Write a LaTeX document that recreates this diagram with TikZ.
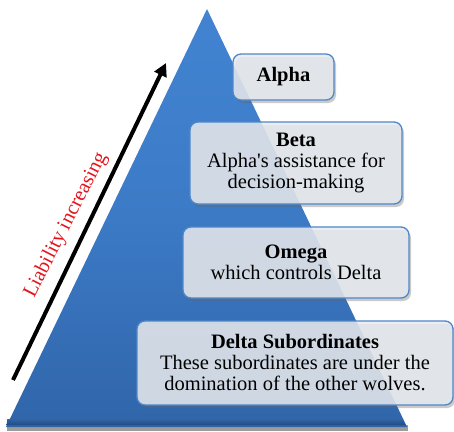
\documentclass[tikz,border=0pt]{standalone}
\usepackage{fontspec}
\setmainfont{Liberation Serif}
\usetikzlibrary{shadows,arrows.meta}
\definecolor{pyrtop}{HTML}{4284D2}
\definecolor{pyrmid}{HTML}{3C7AC6}
\definecolor{pyrbot}{HTML}{3065A9}
\definecolor{tierfill}{HTML}{E6EAEF}
\definecolor{tierline}{HTML}{4F86C8}
\definecolor{liabred}{HTML}{E3141B}
\begin{document}
\begin{tikzpicture}[x=1pt,y=-1pt,
  tier/.style={draw=tierline, line width=1.3pt, rounded corners=8pt,
    fill=tierfill, fill opacity=0.86, text opacity=1,
    drop shadow={shadow xshift=2pt, shadow yshift=-3pt, opacity=0.35, fill=black!60},
    align=center, font=\fontsize{20.5}{21}\selectfont, inner sep=0pt},
  liab/.style={line width=4pt, -{Triangle[length=13pt,width=13pt]}},
  liabtext/.style={text=liabred, font=\fontsize{20.5}{21}\selectfont, rotate=63}]
\useasboundingbox (0,0) rectangle (454,431);
% pyramid, with a dark rim under its base
\coordinate (apex) at (207,9);
\coordinate (bl) at (6,427);
\coordinate (br) at (407,427);
\fill[black!55, opacity=0.7] (7,425) rectangle (408,431);
\shade[top color=pyrtop, bottom color=pyrbot, middle color=pyrmid]
  (apex) -- (br) -- (bl) -- cycle;
\shade[top color=pyrbot, bottom color=pyrbot!75!black]
  (7.3,419) -- (402.5,419) -- (405.7,425) -- (6.6,425) -- cycle;
% rising arrow with its label
\coordinate (arrS) at (13,380);
\coordinate (arrE) at (166,63);
\draw[liab] (arrS) -- (arrE);
\node[liabtext] (liabl) at (66,225) {Liability increasing};
% tiers
\node[tier, minimum width=101pt, minimum height=46pt] (alpha) at (283.5,77)
  {\textbf{Alpha}};
\node[tier, minimum width=212pt, minimum height=82pt] (beta) at (296,163)
  {\textbf{Beta}\\Alpha\textquotesingle s assistance for\\decision-making};
\node[tier, minimum width=226pt, minimum height=71pt] (omega) at (296,262.5)
  {\textbf{Omega}\\which controls Delta};
\node[tier, minimum width=316pt, minimum height=84pt] (delta) at (295,363)
  {\textbf{Delta Subordinates}\\These subordinates are under the\\domination of the other wolves.};
\end{tikzpicture}
\end{document}
